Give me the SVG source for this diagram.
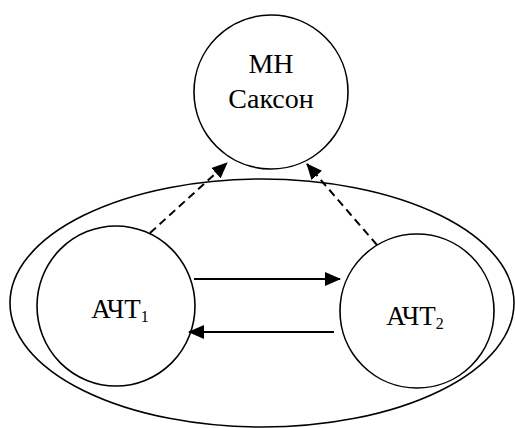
<svg xmlns="http://www.w3.org/2000/svg" width="515" height="428" viewBox="0 0 515 428">
<style>
.node{fill:none;stroke:#000;stroke-width:1.6}
.lbl{font-family:"Liberation Serif","Times New Roman",serif;font-size:28px;fill:#000;text-anchor:middle}
.lbl2{font-family:"Liberation Serif","Times New Roman",serif;font-size:27px;fill:#000;text-anchor:middle}
.sub{font-size:16px}
.solid{stroke:#000;stroke-width:2.2;fill:none}
.dash{stroke:#000;stroke-width:2;fill:none;stroke-dasharray:8 5}
</style>
<defs>
<marker id="ah" markerUnits="userSpaceOnUse" markerWidth="16" markerHeight="14" refX="15" refY="7" orient="auto">
<path d="M0,0 L16,7 L0,14 Z" fill="#000"/>
</marker>
</defs>
<g id="group-ellipse"><ellipse class="node" cx="262" cy="303" rx="252" ry="124"/></g>
<g id="node-mn">
<circle class="node" cx="271" cy="92" r="77"/>
<text class="lbl" x="271" y="73">МН</text>
<text class="lbl" x="271" y="108">Саксон</text>
</g>
<g id="node-act1">
<ellipse class="node" cx="116" cy="306" rx="79" ry="80"/>
<text class="lbl2" x="120" y="318">АЧТ<tspan class="sub" dy="4">1</tspan></text>
</g>
<g id="node-act2">
<circle class="node" cx="417" cy="311" r="77"/>
<text class="lbl2" x="415" y="325">АЧТ<tspan class="sub" dy="4">2</tspan></text>
</g>
<g id="connectors">
<line class="solid" x1="194" y1="279" x2="340" y2="279" marker-end="url(#ah)"/>
<line class="solid" x1="334" y1="332" x2="189" y2="332" marker-end="url(#ah)"/>
<line class="dash" x1="150" y1="233" x2="227" y2="163" marker-end="url(#ah)"/>
<line class="dash" x1="377" y1="245" x2="307" y2="164" marker-end="url(#ah)"/>
</g>
</svg>
